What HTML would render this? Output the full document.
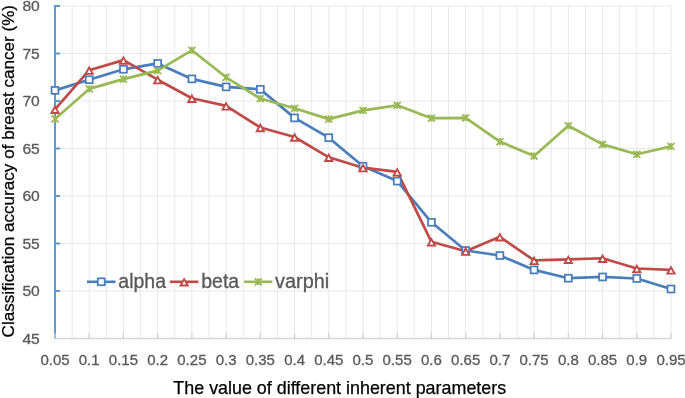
<!DOCTYPE html><html><head><meta charset="utf-8"><style>html,body{margin:0;padding:0;background:#fff;overflow:hidden}svg{display:block;filter:blur(0.35px)}</style></head><body><svg width="685" height="398" viewBox="0 0 685 398">
<rect width="685" height="398" fill="#fff"/>
<path d="M72.11 6.0V338.5 M89.22 6.0V338.5 M106.33 6.0V338.5 M123.44 6.0V338.5 M140.56 6.0V338.5 M157.67 6.0V338.5 M174.78 6.0V338.5 M191.89 6.0V338.5 M209.00 6.0V338.5 M226.11 6.0V338.5 M243.22 6.0V338.5 M260.33 6.0V338.5 M277.44 6.0V338.5 M294.56 6.0V338.5 M311.67 6.0V338.5 M328.78 6.0V338.5 M345.89 6.0V338.5 M363.00 6.0V338.5 M380.11 6.0V338.5 M397.22 6.0V338.5 M414.33 6.0V338.5 M431.44 6.0V338.5 M448.56 6.0V338.5 M465.67 6.0V338.5 M482.78 6.0V338.5 M499.89 6.0V338.5 M517.00 6.0V338.5 M534.11 6.0V338.5 M551.22 6.0V338.5 M568.33 6.0V338.5 M585.44 6.0V338.5 M602.56 6.0V338.5 M619.67 6.0V338.5 M636.78 6.0V338.5 M653.89 6.0V338.5 M671.00 6.0V338.5 M55 6.00H671.0 M55 53.50H671.0 M55 101.00H671.0 M55 148.50H671.0 M55 196.00H671.0 M55 243.50H671.0 M55 291.00H671.0" stroke="#e8e8e8" stroke-width="1" fill="none"/>
<path d="M55 338.5H671.0" stroke="#d6d6d6" stroke-width="1.3" fill="none"/>
<path d="M55 5V338.5 M55 6.00H60 M55 53.50H60 M55 101.00H60 M55 148.50H60 M55 196.00H60 M55 243.50H60 M55 291.00H60" stroke="#5b9bd5" stroke-width="2" fill="none"/>
<path d="M55.00 338.5V333.3 M89.22 338.5V333.3 M123.44 338.5V333.3 M157.67 338.5V333.3 M191.89 338.5V333.3 M226.11 338.5V333.3 M260.33 338.5V333.3 M294.56 338.5V333.3 M328.78 338.5V333.3 M363.00 338.5V333.3 M397.22 338.5V333.3 M431.44 338.5V333.3 M465.67 338.5V333.3 M499.89 338.5V333.3 M534.11 338.5V333.3 M568.33 338.5V333.3 M602.56 338.5V333.3 M636.78 338.5V333.3 M671.00 338.5V333.3" stroke="#d0d0d0" stroke-width="1.3" fill="none"/>
<g font-family="Liberation Sans, sans-serif" font-size="15" fill="#595959" stroke="#595959" stroke-width="0.3">
<text x="55.00" y="365" text-anchor="middle">0.05</text>
<text x="89.22" y="365" text-anchor="middle">0.1</text>
<text x="123.44" y="365" text-anchor="middle">0.15</text>
<text x="157.67" y="365" text-anchor="middle">0.2</text>
<text x="191.89" y="365" text-anchor="middle">0.25</text>
<text x="226.11" y="365" text-anchor="middle">0.3</text>
<text x="260.33" y="365" text-anchor="middle">0.35</text>
<text x="294.56" y="365" text-anchor="middle">0.4</text>
<text x="328.78" y="365" text-anchor="middle">0.45</text>
<text x="363.00" y="365" text-anchor="middle">0.5</text>
<text x="397.22" y="365" text-anchor="middle">0.55</text>
<text x="431.44" y="365" text-anchor="middle">0.6</text>
<text x="465.67" y="365" text-anchor="middle">0.65</text>
<text x="499.89" y="365" text-anchor="middle">0.7</text>
<text x="534.11" y="365" text-anchor="middle">0.75</text>
<text x="568.33" y="365" text-anchor="middle">0.8</text>
<text x="602.56" y="365" text-anchor="middle">0.85</text>
<text x="636.78" y="365" text-anchor="middle">0.9</text>
<text x="671.00" y="365" text-anchor="middle">0.95</text>
<text x="39.8" y="11.20" text-anchor="end" textLength="17.4" lengthAdjust="spacingAndGlyphs">80</text>
<text x="39.8" y="58.70" text-anchor="end" textLength="17.4" lengthAdjust="spacingAndGlyphs">75</text>
<text x="39.8" y="106.20" text-anchor="end" textLength="17.4" lengthAdjust="spacingAndGlyphs">70</text>
<text x="39.8" y="153.70" text-anchor="end" textLength="17.4" lengthAdjust="spacingAndGlyphs">65</text>
<text x="39.8" y="201.20" text-anchor="end" textLength="17.4" lengthAdjust="spacingAndGlyphs">60</text>
<text x="39.8" y="248.70" text-anchor="end" textLength="17.4" lengthAdjust="spacingAndGlyphs">55</text>
<text x="39.8" y="296.20" text-anchor="end" textLength="17.4" lengthAdjust="spacingAndGlyphs">50</text>
<text x="39.8" y="343.70" text-anchor="end" textLength="17.4" lengthAdjust="spacingAndGlyphs">45</text>
</g>
<text x="339.75" y="393.8" text-anchor="middle" font-family="Liberation Sans, sans-serif" font-size="17.9" fill="#000" stroke="#000" stroke-width="0.25">The value of different inherent parameters</text>
<text transform="translate(13.8 171.2) rotate(-90)" x="0" y="0" text-anchor="middle" font-family="Liberation Sans, sans-serif" font-size="17.1" fill="#000" stroke="#000" stroke-width="0.25">Classification accuracy of breast cancer (%)</text>
<polyline points="55.00,90.40 89.22,79.70 123.44,69.30 157.67,63.40 191.89,78.90 226.11,86.90 260.33,89.35 294.56,117.90 328.78,137.70 363.00,166.20 397.22,181.10 431.44,222.30 465.67,250.50 499.89,255.50 534.11,269.90 568.33,278.20 602.56,276.95 636.78,278.50 671.00,289.00" fill="none" stroke="#4a7ebb" stroke-width="2.7" stroke-linejoin="round" stroke-linecap="round"/>
<polyline points="55.00,109.30 89.22,70.20 123.44,60.10 157.67,79.70 191.89,98.25 226.11,105.90 260.33,127.50 294.56,137.00 328.78,157.30 363.00,167.70 397.22,171.90 431.44,241.80 465.67,251.20 499.89,236.84 534.11,260.40 568.33,259.30 602.56,258.25 636.78,268.50 671.00,269.90" fill="none" stroke="#be4b48" stroke-width="2.7" stroke-linejoin="round" stroke-linecap="round"/>
<polyline points="55.00,118.90 89.22,88.90 123.44,79.10 157.67,70.60 191.89,50.30 226.11,77.30 260.33,98.55 294.56,108.30 328.78,119.10 363.00,110.40 397.22,105.30 431.44,118.20 465.67,117.80 499.89,141.60 534.11,156.00 568.33,125.80 602.56,144.40 636.78,154.30 671.00,146.40" fill="none" stroke="#98b954" stroke-width="2.7" stroke-linejoin="round" stroke-linecap="round"/>
<rect x="51.55" y="86.95" width="6.9" height="6.9" fill="#fff" stroke="#4a7ebb" stroke-width="1.75"/>
<rect x="85.77" y="76.25" width="6.9" height="6.9" fill="#fff" stroke="#4a7ebb" stroke-width="1.75"/>
<rect x="119.99" y="65.85" width="6.9" height="6.9" fill="#fff" stroke="#4a7ebb" stroke-width="1.75"/>
<rect x="154.22" y="59.95" width="6.9" height="6.9" fill="#fff" stroke="#4a7ebb" stroke-width="1.75"/>
<rect x="188.44" y="75.45" width="6.9" height="6.9" fill="#fff" stroke="#4a7ebb" stroke-width="1.75"/>
<rect x="222.66" y="83.45" width="6.9" height="6.9" fill="#fff" stroke="#4a7ebb" stroke-width="1.75"/>
<rect x="256.88" y="85.90" width="6.9" height="6.9" fill="#fff" stroke="#4a7ebb" stroke-width="1.75"/>
<rect x="291.11" y="114.45" width="6.9" height="6.9" fill="#fff" stroke="#4a7ebb" stroke-width="1.75"/>
<rect x="325.33" y="134.25" width="6.9" height="6.9" fill="#fff" stroke="#4a7ebb" stroke-width="1.75"/>
<rect x="359.55" y="162.75" width="6.9" height="6.9" fill="#fff" stroke="#4a7ebb" stroke-width="1.75"/>
<rect x="393.77" y="177.65" width="6.9" height="6.9" fill="#fff" stroke="#4a7ebb" stroke-width="1.75"/>
<rect x="427.99" y="218.85" width="6.9" height="6.9" fill="#fff" stroke="#4a7ebb" stroke-width="1.75"/>
<rect x="462.22" y="247.05" width="6.9" height="6.9" fill="#fff" stroke="#4a7ebb" stroke-width="1.75"/>
<rect x="496.44" y="252.05" width="6.9" height="6.9" fill="#fff" stroke="#4a7ebb" stroke-width="1.75"/>
<rect x="530.66" y="266.45" width="6.9" height="6.9" fill="#fff" stroke="#4a7ebb" stroke-width="1.75"/>
<rect x="564.88" y="274.75" width="6.9" height="6.9" fill="#fff" stroke="#4a7ebb" stroke-width="1.75"/>
<rect x="599.11" y="273.50" width="6.9" height="6.9" fill="#fff" stroke="#4a7ebb" stroke-width="1.75"/>
<rect x="633.33" y="275.05" width="6.9" height="6.9" fill="#fff" stroke="#4a7ebb" stroke-width="1.75"/>
<rect x="667.55" y="285.55" width="6.9" height="6.9" fill="#fff" stroke="#4a7ebb" stroke-width="1.75"/>
<path d="M55.00 106.60L58.60 113.00H51.40Z" fill="#fff" stroke="#be4b48" stroke-width="1.9" stroke-linejoin="miter"/>
<path d="M89.22 67.50L92.82 73.90H85.62Z" fill="#fff" stroke="#be4b48" stroke-width="1.9" stroke-linejoin="miter"/>
<path d="M123.44 57.40L127.04 63.80H119.84Z" fill="#fff" stroke="#be4b48" stroke-width="1.9" stroke-linejoin="miter"/>
<path d="M157.67 77.00L161.27 83.40H154.07Z" fill="#fff" stroke="#be4b48" stroke-width="1.9" stroke-linejoin="miter"/>
<path d="M191.89 95.55L195.49 101.95H188.29Z" fill="#fff" stroke="#be4b48" stroke-width="1.9" stroke-linejoin="miter"/>
<path d="M226.11 103.20L229.71 109.60H222.51Z" fill="#fff" stroke="#be4b48" stroke-width="1.9" stroke-linejoin="miter"/>
<path d="M260.33 124.80L263.93 131.20H256.73Z" fill="#fff" stroke="#be4b48" stroke-width="1.9" stroke-linejoin="miter"/>
<path d="M294.56 134.30L298.16 140.70H290.96Z" fill="#fff" stroke="#be4b48" stroke-width="1.9" stroke-linejoin="miter"/>
<path d="M328.78 154.60L332.38 161.00H325.18Z" fill="#fff" stroke="#be4b48" stroke-width="1.9" stroke-linejoin="miter"/>
<path d="M363.00 165.00L366.60 171.40H359.40Z" fill="#fff" stroke="#be4b48" stroke-width="1.9" stroke-linejoin="miter"/>
<path d="M397.22 169.20L400.82 175.60H393.62Z" fill="#fff" stroke="#be4b48" stroke-width="1.9" stroke-linejoin="miter"/>
<path d="M431.44 239.10L435.04 245.50H427.84Z" fill="#fff" stroke="#be4b48" stroke-width="1.9" stroke-linejoin="miter"/>
<path d="M465.67 248.50L469.27 254.90H462.07Z" fill="#fff" stroke="#be4b48" stroke-width="1.9" stroke-linejoin="miter"/>
<path d="M499.89 234.14L503.49 240.54H496.29Z" fill="#fff" stroke="#be4b48" stroke-width="1.9" stroke-linejoin="miter"/>
<path d="M534.11 257.70L537.71 264.10H530.51Z" fill="#fff" stroke="#be4b48" stroke-width="1.9" stroke-linejoin="miter"/>
<path d="M568.33 256.60L571.93 263.00H564.73Z" fill="#fff" stroke="#be4b48" stroke-width="1.9" stroke-linejoin="miter"/>
<path d="M602.56 255.55L606.16 261.95H598.96Z" fill="#fff" stroke="#be4b48" stroke-width="1.9" stroke-linejoin="miter"/>
<path d="M636.78 265.80L640.38 272.20H633.18Z" fill="#fff" stroke="#be4b48" stroke-width="1.9" stroke-linejoin="miter"/>
<path d="M671.00 267.20L674.60 273.60H667.40Z" fill="#fff" stroke="#be4b48" stroke-width="1.9" stroke-linejoin="miter"/>
<path d="M51.50 115.40L58.50 122.40M58.50 115.40L51.50 122.40M55.00 115.40V122.40" stroke="#98b954" stroke-width="1.8" fill="none"/>
<path d="M85.72 85.40L92.72 92.40M92.72 85.40L85.72 92.40M89.22 85.40V92.40" stroke="#98b954" stroke-width="1.8" fill="none"/>
<path d="M119.94 75.60L126.94 82.60M126.94 75.60L119.94 82.60M123.44 75.60V82.60" stroke="#98b954" stroke-width="1.8" fill="none"/>
<path d="M154.17 67.10L161.17 74.10M161.17 67.10L154.17 74.10M157.67 67.10V74.10" stroke="#98b954" stroke-width="1.8" fill="none"/>
<path d="M188.39 46.80L195.39 53.80M195.39 46.80L188.39 53.80M191.89 46.80V53.80" stroke="#98b954" stroke-width="1.8" fill="none"/>
<path d="M222.61 73.80L229.61 80.80M229.61 73.80L222.61 80.80M226.11 73.80V80.80" stroke="#98b954" stroke-width="1.8" fill="none"/>
<path d="M256.83 95.05L263.83 102.05M263.83 95.05L256.83 102.05M260.33 95.05V102.05" stroke="#98b954" stroke-width="1.8" fill="none"/>
<path d="M291.06 104.80L298.06 111.80M298.06 104.80L291.06 111.80M294.56 104.80V111.80" stroke="#98b954" stroke-width="1.8" fill="none"/>
<path d="M325.28 115.60L332.28 122.60M332.28 115.60L325.28 122.60M328.78 115.60V122.60" stroke="#98b954" stroke-width="1.8" fill="none"/>
<path d="M359.50 106.90L366.50 113.90M366.50 106.90L359.50 113.90M363.00 106.90V113.90" stroke="#98b954" stroke-width="1.8" fill="none"/>
<path d="M393.72 101.80L400.72 108.80M400.72 101.80L393.72 108.80M397.22 101.80V108.80" stroke="#98b954" stroke-width="1.8" fill="none"/>
<path d="M427.94 114.70L434.94 121.70M434.94 114.70L427.94 121.70M431.44 114.70V121.70" stroke="#98b954" stroke-width="1.8" fill="none"/>
<path d="M462.17 114.30L469.17 121.30M469.17 114.30L462.17 121.30M465.67 114.30V121.30" stroke="#98b954" stroke-width="1.8" fill="none"/>
<path d="M496.39 138.10L503.39 145.10M503.39 138.10L496.39 145.10M499.89 138.10V145.10" stroke="#98b954" stroke-width="1.8" fill="none"/>
<path d="M530.61 152.50L537.61 159.50M537.61 152.50L530.61 159.50M534.11 152.50V159.50" stroke="#98b954" stroke-width="1.8" fill="none"/>
<path d="M564.83 122.30L571.83 129.30M571.83 122.30L564.83 129.30M568.33 122.30V129.30" stroke="#98b954" stroke-width="1.8" fill="none"/>
<path d="M599.06 140.90L606.06 147.90M606.06 140.90L599.06 147.90M602.56 140.90V147.90" stroke="#98b954" stroke-width="1.8" fill="none"/>
<path d="M633.28 150.80L640.28 157.80M640.28 150.80L633.28 157.80M636.78 150.80V157.80" stroke="#98b954" stroke-width="1.8" fill="none"/>
<path d="M667.50 142.90L674.50 149.90M674.50 142.90L667.50 149.90M671.00 142.90V149.90" stroke="#98b954" stroke-width="1.8" fill="none"/>
<path d="M87 281.8H115.5" stroke="#4a7ebb" stroke-width="2.6"/>
<rect x="97.80" y="278.35" width="6.9" height="6.9" fill="#fff" stroke="#4a7ebb" stroke-width="1.75"/>
<text x="118.3" y="288" font-family="Liberation Sans, sans-serif" font-size="19.5" fill="#595959" stroke="#595959" stroke-width="0.3">alpha</text>
<path d="M169.9 281.8H198.4" stroke="#be4b48" stroke-width="2.6"/>
<path d="M184.15 279.10L187.75 285.50H180.55Z" fill="#fff" stroke="#be4b48" stroke-width="1.9" stroke-linejoin="miter"/>
<text x="201.2" y="288" font-family="Liberation Sans, sans-serif" font-size="19.5" fill="#595959" stroke="#595959" stroke-width="0.3">beta</text>
<path d="M244.1 281.8H272.4" stroke="#98b954" stroke-width="2.6"/>
<path d="M254.75 278.30L261.75 285.30M261.75 278.30L254.75 285.30M258.25 278.30V285.30" stroke="#98b954" stroke-width="1.8" fill="none"/>
<text x="275" y="288" font-family="Liberation Sans, sans-serif" font-size="19.5" fill="#595959" stroke="#595959" stroke-width="0.3" textLength="54.2" lengthAdjust="spacingAndGlyphs">varphi</text>
</svg></body></html>
